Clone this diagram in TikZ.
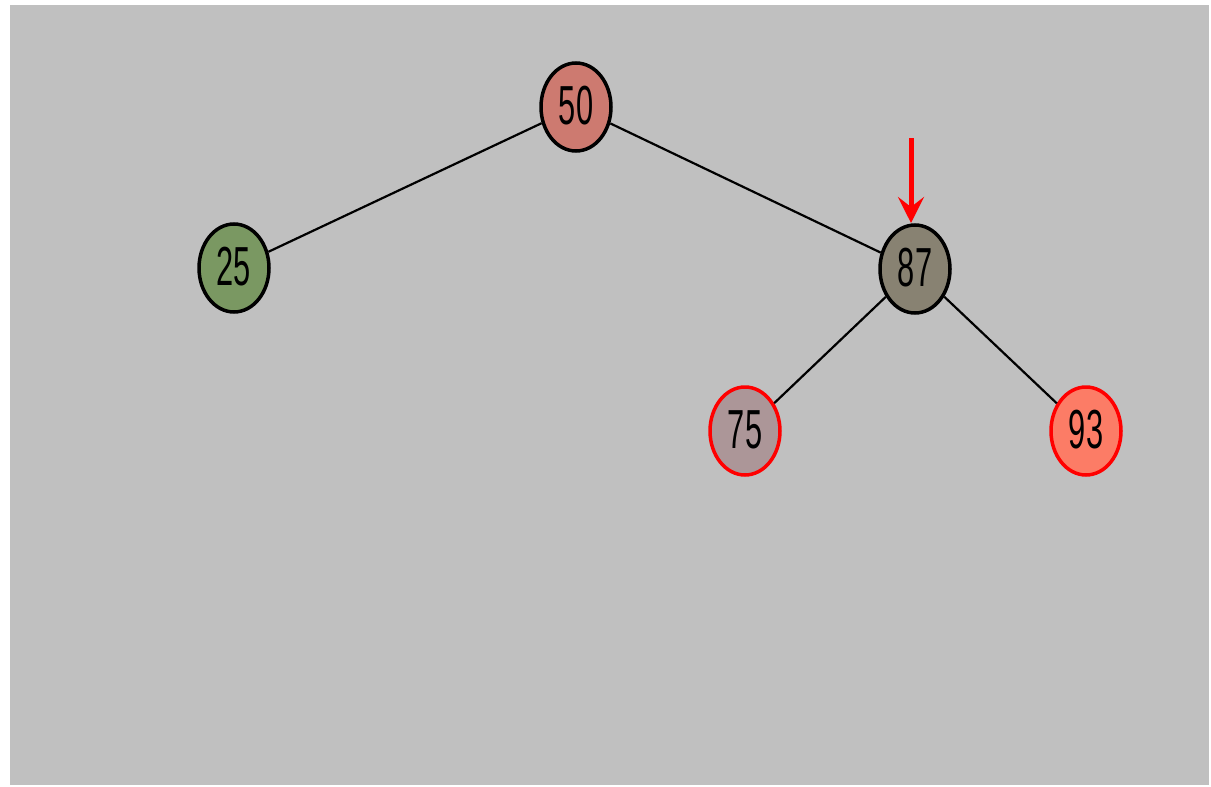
\documentclass[tikz,border=0pt]{standalone}
\usepackage{fontspec}
\setmainfont{Liberation Sans}
\usetikzlibrary{arrows.meta,shapes.geometric}
\definecolor{panel}{RGB}{192,192,192}
\definecolor{cfifty}{RGB}{205,122,112}
\definecolor{ctwentyfive}{RGB}{122,152,98}
\definecolor{ceightyseven}{RGB}{136,130,114}
\definecolor{cseventyfive}{RGB}{172,150,152}
\definecolor{cninetythree}{RGB}{252,124,102}
\definecolor{redmark}{RGB}{255,0,0}
\tikzset{
  keynode/.style={ellipse, draw=black, line width=3.5pt, minimum width=70pt, minimum height=88pt, inner sep=0pt},
  fresh/.style={draw=redmark},
  keyfont/.style={font=\fontsize{55}{55}\selectfont, inner sep=0pt},
  link/.style={line width=2.2pt, black},
}
\newcommand{\keytext}[1]{\scalebox{0.56}[1]{#1}}
\begin{document}
\begin{tikzpicture}[x=1pt,y=-1pt]
  \useasboundingbox (0,0) rectangle (1211,787);
  \fill[white] (0,0) rectangle (1211,787);
  \fill[panel] (10,5) rectangle (1209,785);
  % tree nodes
  \node[keynode, fill=cfifty] (n50) at (576,107) {};
  \node[keynode, fill=ctwentyfive] (n25) at (234,268) {};
  \node[keynode, fill=ceightyseven] (n87) at (915,269) {};
  \node[keynode, fill=cseventyfive, fresh] (n75) at (745,431) {};
  \node[keynode, fill=cninetythree, fresh] (n93) at (1086,431) {};
  % edges
  \draw[link] (n50) -- (n25);
  \draw[link] (n50) -- (n87);
  \draw[link] (n87) -- (n75);
  \draw[link] (n87) -- (n93);
  % key labels
  \foreach \n/\t in {n50/50,n25/25,n87/87,n75/75,n93/93}
    \node[keyfont] (t\n) at ([yshift=1pt]\n.center) {\keytext{\t}};
  % pointer to current node
  \coordinate (ptr) at (911,138);
  \coordinate (ptrend) at (911,223);
  \draw[redmark, line width=5pt, -{Stealth[length=26pt,width=26pt,inset=10pt]}] (ptr) -- (ptrend);
\end{tikzpicture}
\end{document}
